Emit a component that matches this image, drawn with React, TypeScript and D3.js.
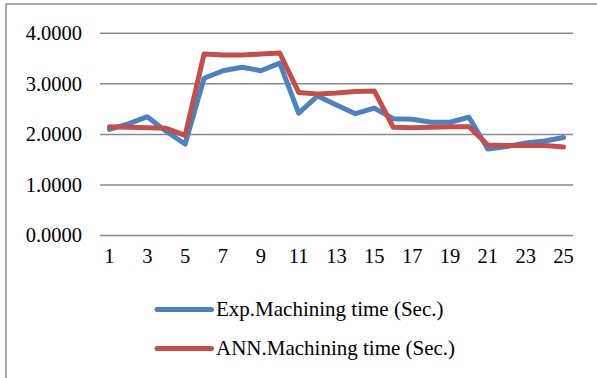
import React from "react";
import * as d3 from "d3";

// Run numbers 1..25
const runs: number[] = Array.from({ length: 25 }, (_, i) => i + 1);

// Experimental machining time (sec.)
const expTime: number[] = [
  2.1, 2.21, 2.35, 2.06, 1.81, 3.11, 3.26, 3.33, 3.26, 3.41,
  2.42, 2.76, 2.58, 2.41, 2.52, 2.31, 2.3, 2.24, 2.24, 2.34,
  1.71, 1.76, 1.83, 1.87, 1.94,
];

// ANN predicted machining time (sec.)
const annTime: number[] = [
  2.15, 2.14, 2.13, 2.12, 1.98, 3.59, 3.57, 3.57, 3.59, 3.61,
  2.83, 2.8, 2.82, 2.85, 2.86, 2.14, 2.13, 2.14, 2.15, 2.15,
  1.79, 1.78, 1.78, 1.78, 1.75,
];

const yTicks: number[] = [0, 1, 2, 3, 4];
const xTickLabels: string[] = runs.filter((r) => r % 2 === 1).map(String);

const seriesNames: string[] = [
  "Exp.Machining time (Sec.)",
  "ANN.Machining time (Sec.)",
];
const seriesColors: string[] = ["#4F81BD", "#C0504D"];

export default function App() {
  const W = 597;
  const H = 378;
  const plotLeft = 100;
  const plotRight = 573;
  const plotTop = 33.3;
  const plotBottom = 235.5;

  const x = d3
    .scaleBand<string>()
    .domain(runs.map(String))
    .range([plotLeft, plotRight]);
  const y = d3.scaleLinear().domain([0, 4]).range([plotBottom, plotTop]);

  const cx = (i: number) => (x(String(runs[i])) as number) + x.bandwidth() / 2;

  const line = d3
    .line<number>()
    .x((_, i) => cx(i))
    .y((d) => y(d));

  const textStyle = {
    fontFamily: '"Liberation Serif", "Times New Roman", Times, serif',
  };
  const series = [expTime, annTime];

  return (
    <svg
      width={W}
      height={H}
      style={{ position: "absolute", left: 0, top: 0, background: "#fff" }}
    >
      <rect x={0} y={0} width={W} height={H} fill="#fff" />
      {/* outer chart frame */}
      <rect
        x={6}
        y={4}
        width={700}
        height={500}
        fill="none"
        stroke="#8c8c8c"
        strokeWidth={1.5}
      />
      {/* horizontal gridlines and y labels */}
      {yTicks.map((t) => (
        <g key={t}>
          <line
            x1={plotLeft}
            x2={plotRight}
            y1={y(t)}
            y2={y(t)}
            stroke="#8a8a8a"
            strokeWidth={1.5}
          />
          <text
            x={82}
            y={y(t) + 6.8}
            textAnchor="end"
            style={textStyle}
            fontSize={20.5}
            fill="#000"
          >
            {d3.format(".4f")(t)}
          </text>
        </g>
      ))}
      {/* x labels */}
      {xTickLabels.map((lab) => (
        <text
          key={lab}
          x={(x(lab) as number) + x.bandwidth() / 2}
          y={263}
          textAnchor="middle"
          style={textStyle}
          fontSize={20.5}
          fill="#000"
        >
          {lab}
        </text>
      ))}
      {/* data lines */}
      {series.map((s, k) => (
        <path
          key={k}
          d={line(s) || ""}
          fill="none"
          stroke={seriesColors[k]}
          strokeWidth={5}
          strokeLinejoin="round"
          strokeLinecap="round"
        />
      ))}
      {/* legend */}
      {seriesNames.map((name, k) => {
        const ly = 309.5 + k * 39;
        return (
          <g key={name}>
            <line
              x1={157}
              x2={211.5}
              y1={ly}
              y2={ly}
              stroke={seriesColors[k]}
              strokeWidth={5}
              strokeLinecap="round"
            />
            <text
              x={216}
              y={ly + 6.8}
              style={textStyle}
              fontSize={21}
              fill="#000"
            >
              {name}
            </text>
          </g>
        );
      })}
    </svg>
  );
}
